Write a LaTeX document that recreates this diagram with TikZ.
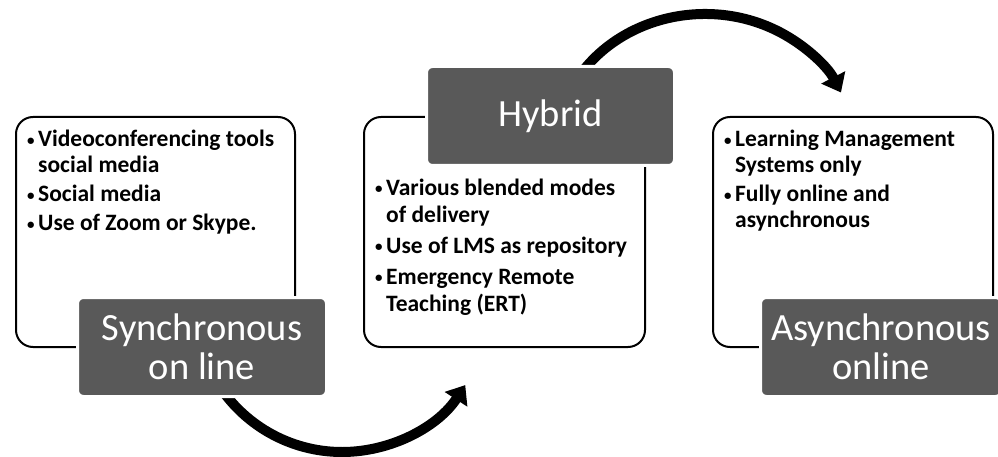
\documentclass[tikz,border=0pt]{standalone}
\usepackage{fontspec}
\setmainfont{Carlito}
\usetikzlibrary{arrows.meta}
\definecolor{labelgray}{HTML}{595959}
\newcommand{\bul}{\makebox[11pt][l]{\raisebox{1.5pt}{\fontsize{15}{15}\selectfont •}}}
\newcommand{\ind}{\hspace*{11pt}}
\begin{document}
\begin{tikzpicture}[x=1pt,y=-1pt,
  box/.style={draw=black, line width=2pt, rounded corners=17pt, fill=white, minimum height=230pt},
  lbl/.style={fill=labelgray, draw=white, line width=3pt, rounded corners=6pt, text=white,
    font=\fontsize{38.5}{40}\selectfont, align=center, inner sep=0pt, minimum height=99pt},
  items/.style={anchor=north west, inner sep=0pt, align=left},
  flow/.style={line width=10pt, -{Triangle[width=26pt,length=17pt]}}
]
\useasboundingbox (0,0) rectangle (998,457);
% curved arrows
\coordinate (s1) at (217.3,382.9);
\draw[flow] (s1) arc[start angle=148, end angle=33, radius=147];
\coordinate (s2) at (575.1,82);
\draw[flow] (s2) arc[start angle=210, end angle=335, x radius=150, y radius=136];
% boxes
\node[box, minimum width=279pt] (b1) at (155.5,232) {};
\node[box, minimum width=281pt] (b2) at (504.5,232) {};
\node[box, minimum width=280pt] (b3) at (853,232) {};
% labels
\node[lbl, minimum width=249pt] (l1) at (202,347) {Synchronous\\[-1pt]on line};
\node[lbl, minimum width=248pt] (l2) at (550.5,116) {Hybrid};
\node[lbl, minimum width=241pt] (l3) at (881,347) {Asynchronous\\[-1pt]online};
% texts
\node[items, font=\bfseries\fontsize{23.5}{26}\selectfont] (t1) at (27,126.7)
 {\rule{0pt}{20pt}\bul Videoconferencing tools\\
  \ind social media\\[3pt]
  \bul Social media\\[3pt]
  \bul Use of Zoom or Skype.};
\node[items, font=\bfseries\fontsize{23.5}{27}\selectfont] (t2) at (375,175)
 {\rule{0pt}{20pt}\bul Various blended modes\\
  \ind of delivery\\[4pt]
  \bul Use of LMS as repository\\[4pt]
  \bul Emergency Remote\\
  \ind Teaching (ERT)};
\node[items, font=\bfseries\fontsize{23.5}{26}\selectfont] (t3) at (724,126.7)
 {\rule{0pt}{20pt}\bul Learning Management\\
  \ind Systems only\\[3pt]
  \bul Fully online and\\
  \ind asynchronous};
\end{tikzpicture}
\end{document}
